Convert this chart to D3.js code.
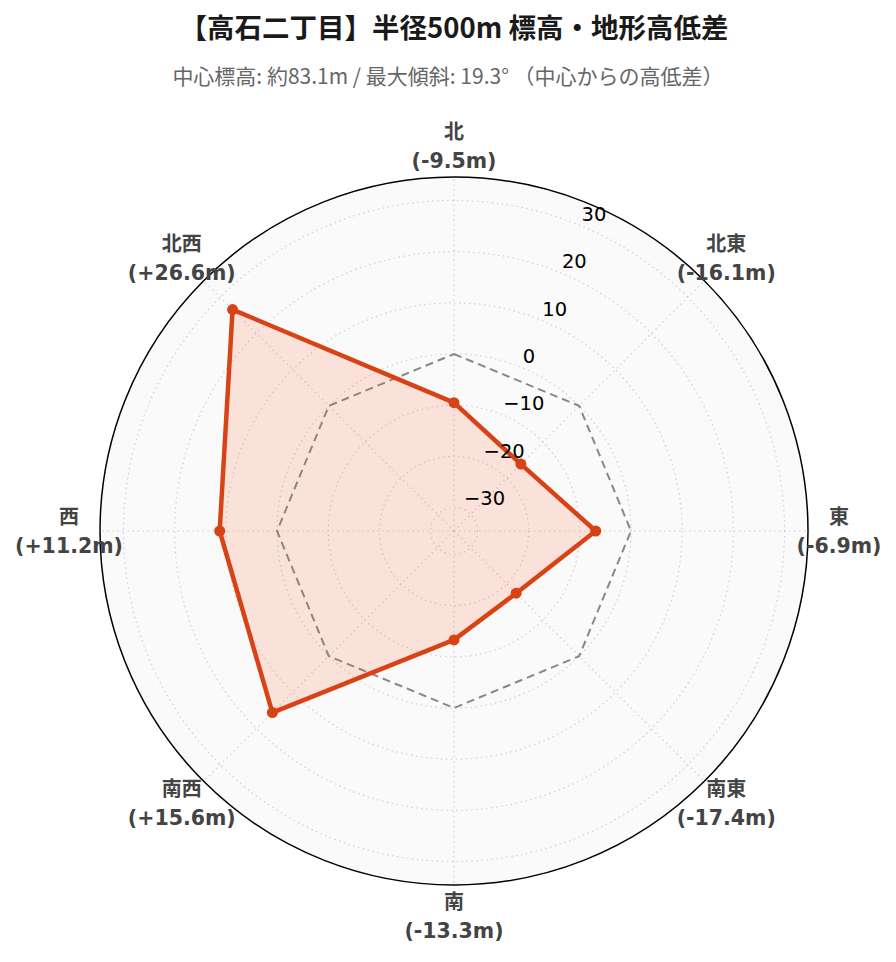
<!DOCTYPE html>
<html><head><meta charset="utf-8">
<script src="https://cdn.jsdelivr.net/npm/d3@7"></script>
<style>
html,body{margin:0;padding:0;background:#fff;}
</style></head>
<body>
<svg id="chart" width="896" height="962"></svg>
<script>
const directions = ["北","北東","東","南東","南","南西","西","北西"];
const diffs = [-9.5,-16.1,-6.9,-17.4,-13.3,15.6,11.2,26.6];
const diffLabels = ["(-9.5m)","(-16.1m)","(-6.9m)","(-17.4m)","(-13.3m)","(+15.6m)","(+11.2m)","(+26.6m)"];
const referenceLine = [0,0,0,0,0,0,0,0];
const radialTicks = [-30,-20,-10,0,10,20,30];
const radialRange = [-34.58, 34.58];
const titleText = "【高石二丁目】半径500m 標高・地形高低差";
const subtitleText = "中心標高: 約83.1m / 最大傾斜: 19.3° （中心からの高低差）";

const svg = d3.select("#chart");
const cx = 454, cy = 531, R = 354;
const cjk = "'Noto Sans CJK JP', 'DejaVu Sans', sans-serif";
const dv = "'DejaVu Sans', 'Noto Sans CJK JP', sans-serif";

svg.append("text").attr("x",454).attr("y",38).attr("text-anchor","middle")
  .attr("font-family",cjk).attr("font-weight","bold").attr("font-size",27.5).attr("fill","#1a1a1a")
  .text(titleText);
svg.append("text").attr("x",448).attr("y",84).attr("text-anchor","middle")
  .attr("font-family",cjk).attr("font-size",21).attr("fill","#666")
  .text(subtitleText);

const r = d3.scaleLinear().domain(radialRange).range([0,R]);
const ang = d3.scalePoint().domain(directions).range([0, 2*Math.PI*7/8]);

const g = svg.append("g").attr("transform",`translate(${cx},${cy})`);
g.append("circle").attr("r",R).attr("fill","#fafafa");

// radial grid circles
g.selectAll("circle.grid").data(radialTicks).join("circle").attr("class","grid")
  .attr("r",d=>r(d)).attr("fill","none").attr("stroke","#d0d0d0")
  .attr("stroke-width",1.2).attr("stroke-dasharray","1.5,3.5");
// angular grid lines
g.selectAll("line.spoke").data(directions).join("line").attr("class","spoke")
  .attr("x1",0).attr("y1",0)
  .attr("x2",d=>R*Math.sin(ang(d))).attr("y2",d=>-R*Math.cos(ang(d)))
  .attr("stroke","#d0d0d0").attr("stroke-width",1.2).attr("stroke-dasharray","1.5,3.5");

g.append("circle").attr("r",R).attr("fill","none").attr("stroke","#000").attr("stroke-width",1.5);

const line = d3.lineRadial().angle((d,i)=>ang(directions[i])).radius(d=>r(d)).curve(d3.curveLinearClosed);

g.append("path").datum(referenceLine).attr("d",line).attr("fill","none")
  .attr("stroke","#888").attr("stroke-width",2).attr("stroke-dasharray","8,5");

g.append("path").datum(diffs).attr("d",line).attr("fill","rgba(255,87,34,0.15)")
  .attr("stroke","#d84315").attr("stroke-width",4.5).attr("stroke-linejoin","round");

g.selectAll("circle.pt").data(diffs).join("circle").attr("class","pt")
  .attr("cx",(d,i)=>r(d)*Math.sin(ang(directions[i])))
  .attr("cy",(d,i)=>-r(d)*Math.cos(ang(directions[i])))
  .attr("r",5.5).attr("fill","#d84315");

// radial tick labels along 22.5deg
const ta = Math.PI/8;
g.selectAll("text.tick").data(radialTicks).join("text").attr("class","tick")
  .attr("x",d=>r(d)*Math.sin(ta)+1).attr("y",d=>-r(d)*Math.cos(ta)-11)
  .attr("dominant-baseline","central")
  .attr("font-family",dv).attr("font-size",19.5).attr("fill","#000")
  .text(d=>d3.format("")(d).replace("-","\u2212"));

// angular labels
const LR = 385;
const lab = g.selectAll("g.alab").data(directions).join("g").attr("class","alab")
  .attr("transform",d=>`translate(${LR*Math.sin(ang(d))},${-LR*Math.cos(ang(d))})`);
lab.append("text").attr("y",-14.5).attr("text-anchor","middle").attr("dominant-baseline","central")
  .attr("font-family",dv).attr("font-weight","bold").attr("font-size",20).attr("fill","#444")
  .text(d=>d);
lab.append("text").attr("y",14.5).attr("text-anchor","middle").attr("dominant-baseline","central")
  .attr("font-family",dv).attr("font-weight","bold").attr("font-size",20.5).attr("fill","#444")
  .text((d,i)=>diffLabels[i]);
</script>
</body></html>
